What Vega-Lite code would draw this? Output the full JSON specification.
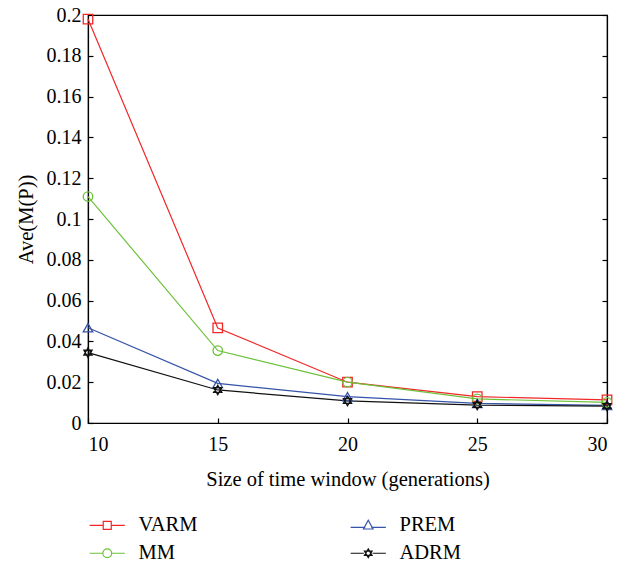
{
  "$schema": "https://vega.github.io/schema/vega-lite/v6.json",
  "width": 519,
  "height": 408,
  "autosize": {"type": "none"},
  "padding": {"left": 88, "top": 15, "right": 22, "bottom": 140},
  "background": "white",
  "config": {
    "font": "Liberation Serif",
    "view": {"stroke": "black", "strokeWidth": 1.2},
    "axis": {
      "grid": false,
      "domainColor": "black",
      "domainWidth": 1.2,
      "tickColor": "black",
      "tickWidth": 1.2,
      "tickSize": -5,
      "labelColor": "black",
      "labelFont": "Liberation Serif",
      "titleFont": "Liberation Serif",
      "labelFontSize": 20,
      "titleFontSize": 20.5,
      "titleFontWeight": "normal",
      "titleColor": "black"
    },
    "legend": {
      "labelFont": "Liberation Serif",
      "labelFontSize": 20.5,
      "labelColor": "black"
    }
  },
  "data": {
    "values": [
      {"window": 10, "method": "VARM", "value": 0.198},
      {"window": 15, "method": "VARM", "value": 0.0466},
      {"window": 20, "method": "VARM", "value": 0.0200},
      {"window": 25, "method": "VARM", "value": 0.0129},
      {"window": 30, "method": "VARM", "value": 0.0113},
      {"window": 10, "method": "MM", "value": 0.111},
      {"window": 15, "method": "MM", "value": 0.0355},
      {"window": 20, "method": "MM", "value": 0.0200},
      {"window": 25, "method": "MM", "value": 0.0118},
      {"window": 30, "method": "MM", "value": 0.0101},
      {"window": 10, "method": "PREM", "value": 0.0467},
      {"window": 15, "method": "PREM", "value": 0.0194},
      {"window": 20, "method": "PREM", "value": 0.0129},
      {"window": 25, "method": "PREM", "value": 0.0096},
      {"window": 30, "method": "PREM", "value": 0.0086},
      {"window": 10, "method": "ADRM", "value": 0.0345},
      {"window": 15, "method": "ADRM", "value": 0.0162},
      {"window": 20, "method": "ADRM", "value": 0.0108},
      {"window": 25, "method": "ADRM", "value": 0.0088},
      {"window": 30, "method": "ADRM", "value": 0.0083}
    ]
  },
  "resolve": {"axis": {"y": "independent"}, "scale": {"shape": "independent", "color": "independent"}},
  "layer": [
    {
      "mark": {"type": "line", "strokeWidth": 1.2},
      "encoding": {
        "x": {"field": "window", "type": "quantitative", "scale": {"domain": [10, 30], "nice": false},
              "axis": {"values": [10, 15, 20, 25, 30], "title": "Size of time window (generations)", "labelPadding": 16, "titlePadding": 15}},
        "y": {"field": "value", "type": "quantitative", "scale": {"domain": [0, 0.2], "nice": false},
              "axis": {"values": [0, 0.02, 0.04, 0.06, 0.08, 0.1, 0.12, 0.14, 0.16, 0.18, 0.2], "format": "~g", "title": "Ave(M(P))", "labelPadding": 12, "titlePadding": 10}},
        "color": {"field": "method", "type": "nominal",
                  "scale": {"domain": ["VARM", "PREM", "MM", "ADRM"], "range": ["#f02828", "#3553a8", "#6cc23a", "#111111"]},
                  "legend": null},
        "detail": {"field": "method"}
      }
    },
    {
      "mark": {"type": "point", "filled": false, "strokeWidth": 1.3, "size": 90, "opacity": 1},
      "encoding": {
        "x": {"field": "window", "type": "quantitative"},
        "y": {"field": "value", "type": "quantitative",
              "axis": {"orient": "right", "values": [0, 0.02, 0.04, 0.06, 0.08, 0.1, 0.12, 0.14, 0.16, 0.18, 0.2], "labels": false, "title": null}},
        "color": {"field": "method", "type": "nominal",
                  "scale": {"domain": ["VARM", "PREM", "MM", "ADRM"], "range": ["#f02828", "#3553a8", "#6cc23a", "#111111"]},
                  "legend": null},
        "shape": {"field": "method", "type": "nominal",
                  "scale": {"domain": ["VARM", "PREM", "MM", "ADRM"], "range": ["square", "triangle-up", "circle", "M0,-1L0.866,0.5L-0.866,0.5Z M0,1L0.866,-0.5L-0.866,-0.5Z"]},
                  "legend": null}
      }
    },
    {
      "mark": {"type": "point", "filled": false, "strokeWidth": 1.2, "size": 64, "opacity": 0},
      "encoding": {
        "x": {"field": "window", "type": "quantitative"},
        "y": {"field": "value", "type": "quantitative", "axis": null},
        "color": {"field": "method", "type": "nominal",
                  "scale": {"domain": ["VARM", "PREM", "MM", "ADRM"], "range": ["#f02828", "#3553a8", "#6cc23a", "#111111"]},
                  "legend": {"title": null, "orient": "none", "legendX": 9, "legendY": 500, "direction": "horizontal", "columns": 2, "columnPadding": 150, "rowPadding": 7, "symbolSize": 64, "symbolStrokeWidth": 1.2, "symbolOpacity": 1, "labelOffset": 21}},
        "shape": {"field": "method", "type": "nominal",
                  "scale": {"domain": ["VARM", "PREM", "MM", "ADRM"], "range": ["M-4.4,0H-1M1,0H4.4M-1,-1H1V1H-1Z", "M-4.4,0.5H-0.75M0.75,0.5H4.4M0,-1.3L1.2,0.9L-1.2,0.9Z", "M-4.4,0H-1.1M1.1,0H4.4M-1.1,0A1.1,1.1 0 1,0 1.1,0A1.1,1.1 0 1,0 -1.1,0", "M-4.4,0H-1.1M1.1,0H4.4M0,-1.1L0.95,0.55L-0.95,0.55Z M0,1.1L0.95,-0.55L-0.95,-0.55Z"]},
                  "legend": {"title": null, "orient": "none", "legendX": 9, "legendY": 500, "direction": "horizontal", "columns": 2, "columnPadding": 150, "rowPadding": 7, "symbolSize": 64, "symbolStrokeWidth": 1.2, "symbolOpacity": 1, "labelOffset": 21}}
      }
    }
  ]
}
